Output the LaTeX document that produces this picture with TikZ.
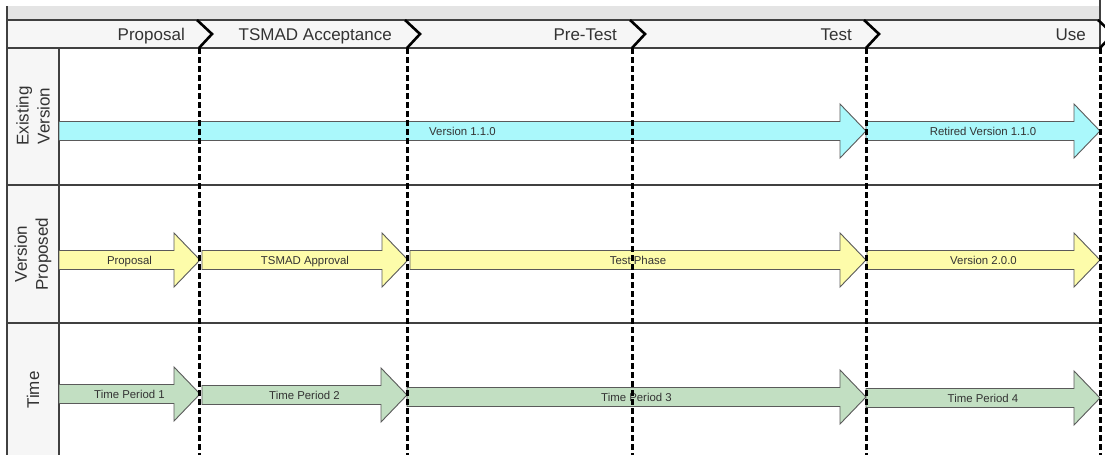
\documentclass[tikz,border=0pt]{standalone}
\usepackage{fontspec}
\setmainfont{Liberation Sans}

\definecolor{band}{HTML}{E4E4E4}
\definecolor{hdrfill}{HTML}{F6F6F6}
\definecolor{rule}{HTML}{404040}
\definecolor{txt}{HTML}{333333}
\definecolor{cyanfill}{HTML}{AAF8FB}
\definecolor{yellowfill}{HTML}{FDFCAA}
\definecolor{greenfill}{HTML}{C2DFC2}
\definecolor{arrowline}{HTML}{5A5A5A}

\tikzset{
  rulestyle/.style={draw=rule, line width=1.6pt},
  phase/.style={font=\fontsize{17}{20}\selectfont, text=txt, inner sep=0pt, anchor=base east},
  lanelabel/.style={font=\fontsize{17}{21}\selectfont, text=txt, rotate=90, align=center, inner sep=0pt},
  arrowtext/.style={font=\fontsize{11.4}{13}\selectfont, text=txt, inner sep=0pt, anchor=base},
  blockarrow/.style={draw=arrowline, line width=0.9pt, line join=miter},
  milestone/.style={draw=black, line width=3pt, dash pattern=on 5.5pt off 3.5pt},
  chevron/.style={draw=black, line width=2.6pt, line join=miter},
}

% block arrow: name, start x, tip x, centre y, fill, label
\newcommand\lanearrow[6]{%
  \path[blockarrow, fill=#5] (#2,#4-9.5) -- (#3-26,#4-9.5) -- (#3-26,#4-27) -- (#3,#4)
       -- (#3-26,#4+27) -- (#3-26,#4+9.5) -- (#2,#4+9.5) -- cycle;
  \node[arrowtext] (#1) at ({(#2+#3)/2},#4+4) {#6};
}

\begin{document}
\begin{tikzpicture}[x=1pt, y=-1pt]
  \useasboundingbox (0,0) rectangle (1105,455);
  \clip (0,0) rectangle (1105,455);

  % backgrounds
  \fill[band] (7,6) rectangle (1100,20);
  \fill[hdrfill] (7,20) rectangle (1100,48);
  \fill[hdrfill] (7,48) rectangle (59,455);

  % table rules
  \draw[rulestyle] (7,6) -- (7,455);
  \draw[rulestyle] (1100,0) -- (1100,48);
  \draw[rulestyle] (59,48) -- (59,455);
  \foreach \y in {20,48,185,323} \draw[rulestyle] (7,\y) -- (1100,\y);

  % phase headings
  \node[phase] (hProposal) at (185,40) {Proposal};
  \node[phase] (hAccept)   at (392,40) {TSMAD Acceptance};
  \node[phase] (hPreTest)  at (617,40) {Pre-Test};
  \node[phase] (hTest)     at (852,40) {Test};
  \node[phase] (hUse)      at (1086,40) {Use};

  % lane headings
  \node[lanelabel] (lExisting) at (33,116) {Existing\\Version};
  \node[lanelabel] (lProposed) at (33,254) {Version\\Proposed};
  \node[lanelabel] (lTime)     at (33,390) {Time};

  % existing version lane
  \lanearrow{aV110}{59}{866}{131}{cyanfill}{Version 1.1.0}
  \lanearrow{aRetired}{866}{1100}{131}{cyanfill}{Retired Version 1.1.0}

  % proposed version lane
  \lanearrow{aProposal}{59}{200}{260}{yellowfill}{Proposal}
  \lanearrow{aApproval}{202}{408}{260}{yellowfill}{TSMAD Approval}
  \lanearrow{aTestPhase}{410}{866}{260}{yellowfill}{Test Phase}
  \lanearrow{aV200}{867}{1100}{260}{yellowfill}{Version 2.0.0}

  % time lane
  \lanearrow{aT1}{59}{200}{394}{greenfill}{Time Period 1}
  \lanearrow{aT2}{202}{407}{395}{greenfill}{Time Period 2}
  \lanearrow{aT3}{407}{866}{397}{greenfill}{Time Period 3}
  \lanearrow{aT4}{866}{1100}{398}{greenfill}{Time Period 4}

  % milestone lines and heading chevrons
  \foreach \x/\n in {199/m1, 407/m2, 632/m3, 866/m4, 1100/m5} {
    \coordinate (\n top) at (\x,48);
    \coordinate (\n bot) at (\x,455);
    \draw[milestone] (\n top) -- (\n bot);
    \draw[chevron] (\x-2,20) -- (\x+13,34) -- (\n top);
  }
\end{tikzpicture}
\end{document}
